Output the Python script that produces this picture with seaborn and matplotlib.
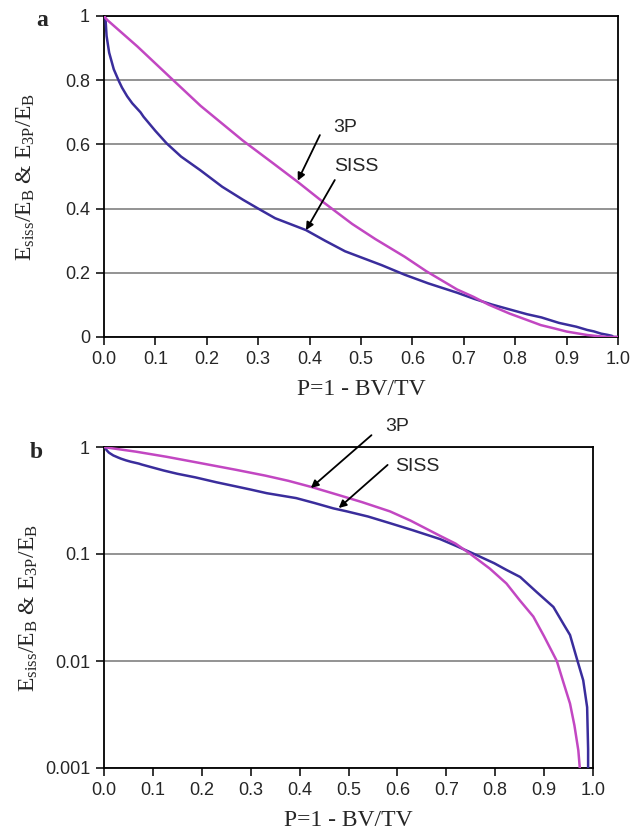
import numpy as np
import pandas as pd
import matplotlib
matplotlib.use("Agg")
import matplotlib.pyplot as plt
import seaborn as sns

# ---- data ----
siss_p = [0.000, 0.003, 0.005, 0.010, 0.019, 0.029, 0.035, 0.045, 0.055, 0.071,
          0.077, 0.100, 0.122, 0.150, 0.187, 0.230, 0.271, 0.300, 0.333, 0.393,
          0.430, 0.469, 0.497, 0.540, 0.585, 0.631, 0.687, 0.720, 0.755, 0.798,
          0.823, 0.851, 0.885, 0.919, 0.940, 0.953, 0.967, 0.980, 0.988, 0.990,
          0.992, 1.000]
siss_e = [1.000, 0.990, 0.938, 0.886, 0.834, 0.797, 0.777, 0.750, 0.728, 0.700,
          0.686, 0.642, 0.603, 0.562, 0.520, 0.468, 0.427, 0.400, 0.370, 0.333,
          0.300, 0.267, 0.250, 0.224, 0.194, 0.167, 0.138, 0.119, 0.101, 0.082,
          0.071, 0.061, 0.044, 0.032, 0.022, 0.0175, 0.0105, 0.0066, 0.0037, 0.0015,
          0.0, 0.0]

p3_p = [0.000, 0.006, 0.065, 0.128, 0.188, 0.270, 0.330, 0.377, 0.425, 0.483,
        0.528, 0.585, 0.627, 0.687, 0.719, 0.748, 0.789, 0.823, 0.850, 0.878,
        0.900, 0.926, 0.940, 0.953, 0.962, 0.970, 0.973, 0.975, 1.000]
p3_e = [1.000, 0.988, 0.905, 0.810, 0.720, 0.612, 0.540, 0.483, 0.422, 0.352,
        0.305, 0.250, 0.205, 0.148, 0.125, 0.101, 0.073, 0.053, 0.037, 0.026,
        0.017, 0.010, 0.0062, 0.0040, 0.0025, 0.00146, 0.0010, 0.0, 0.0]

x_ticks = [0.0, 0.1, 0.2, 0.3, 0.4, 0.5, 0.6, 0.7, 0.8, 0.9, 1.0]
ya_ticks = [0, 0.2, 0.4, 0.6, 0.8, 1]
ya_labels = ["0", "0.2", "0.4", "0.6", "0.8", "1"]
yb_ticks = [0.001, 0.01, 0.1, 1]
yb_labels = ["0.001", "0.01", "0.1", "1"]

df = pd.concat([
    pd.DataFrame({"P": siss_p, "E": siss_e, "series": "SISS"}),
    pd.DataFrame({"P": p3_p, "E": p3_e, "series": "3P"}),
], ignore_index=True)

# ---- style ----
sns.set_theme(style="white")
plt.rcParams["font.family"] = ["Liberation Sans", "DejaVu Sans"]
plt.rcParams["mathtext.fontset"] = "custom"
plt.rcParams["mathtext.rm"] = "Liberation Serif"
plt.rcParams["mathtext.it"] = "Liberation Serif:italic"

palette = {"SISS": "#3a2d9c", "3P": "#c247c2"}
W, H = 641, 834
fig = plt.figure(figsize=(W / 100, H / 100), dpi=100)

def box(l, t, r, b):
    return [l / W, 1 - b / H, (r - l) / W, (b - t) / H]

ax_a = fig.add_axes(box(104, 16, 618, 337))
ax_b = fig.add_axes(box(104, 447, 593, 768))

ylabel = r"$\mathrm{E_{siss}/E_B}$ & $\mathrm{E_{3P}/E_B}$"
serif = ["Liberation Serif", "DejaVu Serif"]

for ax in (ax_a, ax_b):
    sns.lineplot(data=df, x="P", y="E", hue="series", palette=palette,
                 estimator=None, sort=False, lw=1.8, legend=False, ax=ax,
                 zorder=3)

# panel a
ax_a.set_xlim(0, 1)
ax_a.set_ylim(0, 1)
ax_a.set_yticks(ya_ticks)
ax_a.set_yticklabels(ya_labels)

# panel b
ax_b.set_yscale("log")
ax_b.set_xlim(0, 1)
ax_b.set_ylim(0.001, 1)
ax_b.set_yticks(yb_ticks)
ax_b.set_yticklabels(yb_labels)
ax_b.yaxis.set_minor_locator(matplotlib.ticker.NullLocator())

for ax in (ax_a, ax_b):
    ax.set_xticks(x_ticks)
    ax.set_xticklabels([f"{v:.1f}" for v in x_ticks])
    ax.grid(axis="y", color="#808080", lw=1.2)
    ax.grid(axis="x", visible=False)
    for s in ax.spines.values():
        s.set_color("black")
        s.set_linewidth(1.3)
        s.set_visible(True)
    ax.tick_params(axis="both", direction="out", length=6, width=1.1,
                   color="black", labelsize=13, pad=4,
                   bottom=True, left=True)
    ax.set_xlabel("P=1 - BV/TV", fontsize=17, family=serif, labelpad=8)
    ax.set_ylabel(ylabel, fontsize=17, family=serif)
    ax.yaxis.set_label_coords(-0.13, 0.5)

ax_a.text(42 / W, 1 - 20 / H, "a", transform=fig.transFigure, fontsize=17,
          fontweight="bold", family=serif, ha="center", va="center")
ax_b.text(36 / W, 1 - 453 / H, "b", transform=fig.transFigure, fontsize=17,
          fontweight="bold", family=serif, ha="center", va="center")

arrow = dict(arrowstyle="-|>", color="black", lw=1.3, mutation_scale=11,
             shrinkA=0, shrinkB=0)

# annotations panel a
ax_a.annotate("", xy=(0.377, 0.487), xytext=(0.42, 0.629), arrowprops=arrow)
ax_a.text(0.469, 0.654, "3P", fontsize=14, ha="center", va="center")
ax_a.annotate("", xy=(0.393, 0.333), xytext=(0.449, 0.489), arrowprops=arrow)
ax_a.text(0.49, 0.53, "SISS", fontsize=14, ha="center", va="center")

# annotations panel b
ax_b.annotate("", xy=(0.423, 0.414), xytext=(0.547, 1.29), arrowprops=arrow,
              annotation_clip=False)
ax_b.text(0.60, 1.54, "3P", fontsize=14, ha="center", va="center", clip_on=False)
ax_b.annotate("", xy=(0.480, 0.269), xytext=(0.580, 0.68), arrowprops=arrow)
ax_b.text(0.64, 0.664, "SISS", fontsize=14, ha="center", va="center")

fig.savefig("out.png", dpi=100)
